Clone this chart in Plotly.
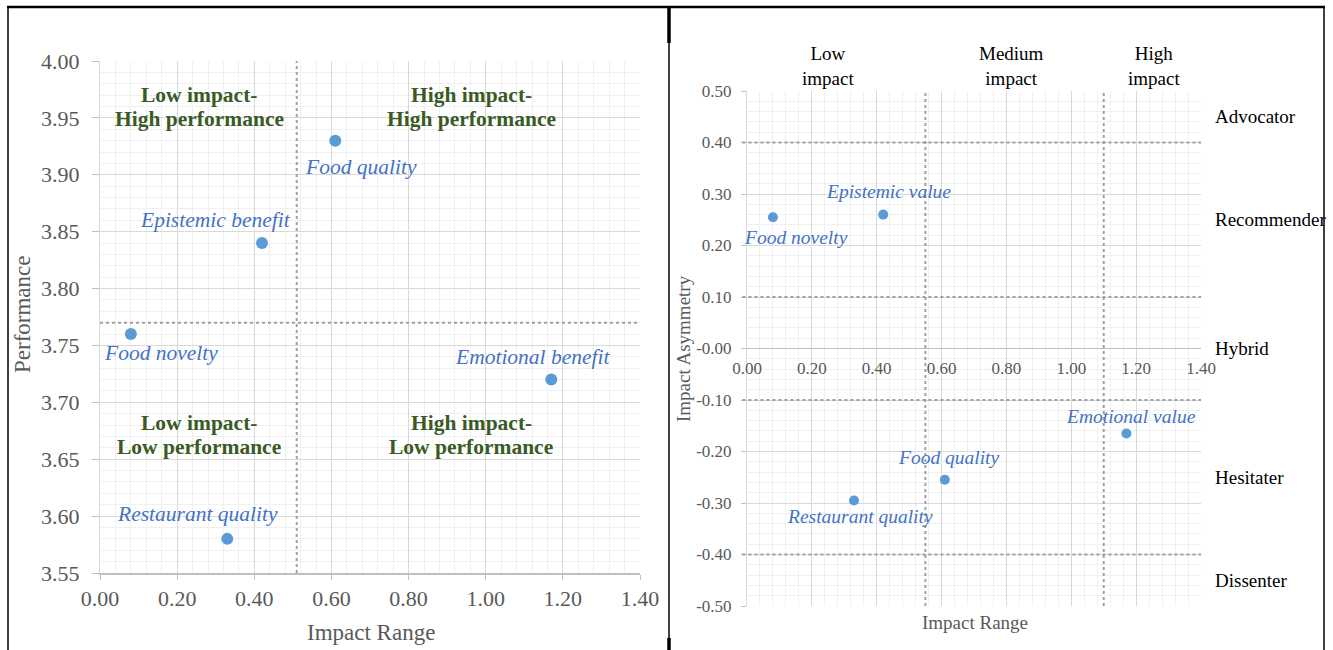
import numpy as np
import plotly.graph_objects as go

W, H = 1333, 650

# ---- Importance-performance analysis (left panel) ----
ipa_factors = ["Food quality", "Epistemic benefit", "Food novelty",
               "Emotional benefit", "Restaurant quality"]
ipa_impact_range = [0.61, 0.42, 0.08, 1.17, 0.33]
ipa_performance = [3.93, 3.84, 3.76, 3.72, 3.58]
ipa_cut_impact = 0.51
ipa_cut_performance = 3.77
ipa_quadrants = [("Low impact-", "High performance"), ("High impact-", "High performance"),
                 ("Low impact-", "Low performance"), ("High impact-", "Low performance")]

# ---- Impact-asymmetry analysis (right panel) ----
ia_factors = ["Food novelty", "Epistemic value", "Emotional value",
              "Food quality", "Restaurant quality"]
ia_impact_range = [0.08, 0.42, 1.17, 0.61, 0.33]
ia_asymmetry = [0.255, 0.26, -0.165, -0.255, -0.295]
ia_cut_impact = [0.55, 1.10]
ia_cut_asymmetry = [0.40, 0.10, -0.10, -0.40]
impact_bands = ["Low<br>impact", "Medium<br>impact", "High<br>impact"]
factor_types = ["Advocator", "Recommender", "Hybrid", "Hesitater", "Dissenter"]

# ---- styling ----
SERIF = "Liberation Serif"
TICK_GREY = "#595959"
GRID = "#d9d9d9"
MINOR = "#f0f0f0"
DOT_LINE = "#a0a0a0"
MARKER = "#5B9BD5"
LABEL_BLUE = "#4472C4"
QUAD_GREEN = "#3A5A26"

# pixel offsets of each point label from its marker
ipa_label_shift = {"Food quality": (26, -26), "Epistemic benefit": (-47, 23),
                   "Food novelty": (30, -19), "Emotional benefit": (-19, 23),
                   "Restaurant quality": (-30, 25)}
ia_label_shift = {"Food novelty": (23, -20), "Epistemic value": (5, 23),
                  "Emotional value": (5, 17), "Food quality": (4, 22),
                  "Restaurant quality": (6, -16)}

# plot-area placement (pixels of the 1333x650 canvas)
L_X = (100, 640)
L_Y = (61, 573)
R_X = (747, 1201)
R_Y = (91, 606)


def px_dom(a, b):
    return [a / W, b / W]


def py_dom(top, bottom):
    return [1 - bottom / H, 1 - top / H]


def fmt_ticks(lo, hi, step):
    vals = np.round(np.arange(lo, hi + step / 2, step), 4)
    return list(vals), [f"{v:.2f}" for v in vals]


fig = go.Figure()

fig.add_trace(go.Scatter(
    x=ipa_impact_range, y=ipa_performance, mode="markers",
    marker=dict(size=12, color=MARKER), xaxis="x", yaxis="y",
    showlegend=False, hoverinfo="skip"))
fig.add_trace(go.Scatter(
    x=ia_impact_range, y=ia_asymmetry, mode="markers",
    marker=dict(size=10, color=MARKER), xaxis="x2", yaxis="y2",
    showlegend=False, hoverinfo="skip"))

lx_vals, lx_text = fmt_ticks(0, 1.4, 0.2)
ly_vals, ly_text = fmt_ticks(3.55, 4.0, 0.05)
rx_vals, rx_text = fmt_ticks(0, 1.4, 0.2)
ry_vals, ry_text = fmt_ticks(-0.5, 0.5, 0.1)

r_ydom = py_dom(*R_Y)
r_yrange = [-0.5, 0.5]
zero_pos = r_ydom[0] + (0 - r_yrange[0]) / (r_yrange[1] - r_yrange[0]) * (r_ydom[1] - r_ydom[0])

common = dict(showgrid=True, gridcolor=GRID, gridwidth=1, zeroline=False,
              fixedrange=True, automargin=False)

fig.update_layout(
    width=W, height=H, autosize=False,
    margin=dict(l=0, r=0, t=0, b=0, pad=0),
    paper_bgcolor="white", plot_bgcolor="white",
    xaxis=dict(domain=px_dom(*L_X), range=[0, 1.4], anchor="y",
               tickvals=lx_vals, ticktext=lx_text,
               minor=dict(dtick=0.04, tick0=0, showgrid=True, gridcolor=MINOR),
               showline=True, linecolor="#bfbfbf", linewidth=1.5,
               ticks="outside", ticklen=5, tickcolor="#bfbfbf",
               ticklabelstandoff=0,
               tickfont=dict(family=SERIF, size=22, color=TICK_GREY), **common),
    yaxis=dict(domain=py_dom(*L_Y), range=[3.55, 4.0], anchor="x",
               tickvals=ly_vals, ticktext=ly_text,
               minor=dict(dtick=0.01, tick0=3.55, showgrid=True, gridcolor=MINOR),
               showline=True, linecolor=GRID, linewidth=1,
               ticks="outside", ticklen=7, tickcolor="#bfbfbf",
               ticklabelstandoff=8,
               tickfont=dict(family=SERIF, size=22, color=TICK_GREY), **common),
    xaxis2=dict(domain=px_dom(*R_X), range=[0, 1.4], anchor="free",
                position=zero_pos,
                tickvals=rx_vals, ticktext=rx_text,
                minor=dict(dtick=0.04, tick0=0, showgrid=True, gridcolor=MINOR),
                showline=False, ticks="", ticklabelstandoff=7,
                tickfont=dict(family=SERIF, size=17, color=TICK_GREY), **common),
    yaxis2=dict(domain=r_ydom, range=r_yrange, anchor="x2",
                tickvals=ry_vals, ticktext=ry_text,
                minor=dict(dtick=0.02, tick0=-0.5, showgrid=True, gridcolor=MINOR),
                showline=True, linecolor=GRID, linewidth=1,
                ticks="outside", ticklen=5, tickcolor="#bfbfbf",
                ticklabelstandoff=6,
                tickfont=dict(family=SERIF, size=17, color=TICK_GREY),
                **{**common, "zeroline": True},
                zerolinecolor="#bfbfbf", zerolinewidth=1.5),
)

shapes = []
dot = dict(color=DOT_LINE, width=2, dash="dot")
# quadrant dividers, left panel
shapes.append(dict(type="line", xref="x", yref="y domain", x0=ipa_cut_impact, x1=ipa_cut_impact,
                   y0=0, y1=1, line=dot, layer="above"))
shapes.append(dict(type="line", xref="x domain", yref="y", x0=0, x1=1,
                   y0=ipa_cut_performance, y1=ipa_cut_performance, line=dot, layer="above"))
# band dividers, right panel
for c in ia_cut_impact:
    shapes.append(dict(type="line", xref="x2", yref="y2 domain", x0=c, x1=c, y0=0, y1=1,
                       line=dot, layer="above"))
for c in ia_cut_asymmetry:
    shapes.append(dict(type="line", xref="x2 domain", yref="y2", x0=-0.01, x1=1,
                       y0=c, y1=c, line=dot, layer="above"))

# table frame around the two charts
black = "black"
def frame(x0, y0, x1, y1, w):
    shapes.append(dict(type="line", xref="paper", yref="paper",
                       x0=x0 / W, x1=x1 / W, y0=1 - y0 / H, y1=1 - y1 / H,
                       line=dict(color=black, width=w)))

frame(7, 7, 1325, 7, 2.5)
frame(8, 6, 8, 650, 1.5)
frame(669, 6, 669, 650, 1.5)
frame(669, 6, 669, 43, 3.5)
frame(669, 638, 669, 650, 3.5)
frame(1324, 6, 1324, 650, 1.5)

annotations = []
# point labels
for name, x, y in zip(ipa_factors, ipa_impact_range, ipa_performance):
    dx, dy = ipa_label_shift[name]
    annotations.append(dict(x=x, y=y, xref="x", yref="y", text=f"<i>{name}</i>",
                            showarrow=False, xshift=dx, yshift=dy,
                            xanchor="center", yanchor="middle",
                            font=dict(family=SERIF, size=21.5, color=LABEL_BLUE)))
for name, x, y in zip(ia_factors, ia_impact_range, ia_asymmetry):
    dx, dy = ia_label_shift[name]
    annotations.append(dict(x=x, y=y, xref="x2", yref="y2", text=f"<i>{name}</i>",
                            showarrow=False, xshift=dx, yshift=dy,
                            xanchor="center", yanchor="middle",
                            font=dict(family=SERIF, size=19.5, color=LABEL_BLUE)))

# quadrant captions, left panel (two lines, 24 px apart)
quad_pos = [(0.257, 3.96), (0.962, 3.96), (0.257, 3.671), (0.962, 3.671)]
for (line1, line2), (qx, qy) in zip(ipa_quadrants, quad_pos):
    for txt, shift in ((line1, 12), (line2, -12)):
        annotations.append(dict(x=qx, y=qy, xref="x", yref="y", text=f"<b>{txt}</b>",
                                showarrow=False, xanchor="center", yanchor="middle",
                                yshift=shift,
                                font=dict(family=SERIF, size=21.5, color=QUAD_GREEN)))

# impact bands above the right panel
band_x = [0.25, 0.815, 1.255]
for txt, bx in zip(impact_bands, band_x):
    annotations.append(dict(x=bx, y=1 - 66 / H, xref="x2", yref="paper", text=txt,
                            showarrow=False, xanchor="center", yanchor="middle",
                            font=dict(family=SERIF, size=19, color="black")))

# factor types to the right of the right panel
type_y = [0.45, 0.25, 0.0, -0.25, -0.45]
for txt, ty in zip(factor_types, type_y):
    annotations.append(dict(x=1213 / W, y=ty, xref="paper", yref="y2", text=txt,
                            xanchor="left", yanchor="middle", showarrow=False,
                            font=dict(family=SERIF, size=19, color="black")))

# axis titles
title_font_l = dict(family=SERIF, size=23, color=TICK_GREY)
title_font_r = dict(family=SERIF, size=19, color=TICK_GREY)
annotations += [
    dict(x=371 / W, y=1 - 632 / H, text="Impact Range", font=title_font_l),
    dict(x=22 / W, y=1 - 314 / H, text="Performance", textangle=-90, font=title_font_l),
    dict(x=975 / W, y=1 - 622 / H, text="Impact Range", font=title_font_r),
    dict(x=683 / W, y=1 - 349 / H, text="Impact Asymmetry", textangle=-90, font=title_font_r),
]
for a in annotations[-4:]:
    a.update(xref="paper", yref="paper", showarrow=False, xanchor="center", yanchor="middle")

fig.update_layout(shapes=shapes, annotations=annotations)
fig.write_html("out.html", config={"staticPlot": True})
